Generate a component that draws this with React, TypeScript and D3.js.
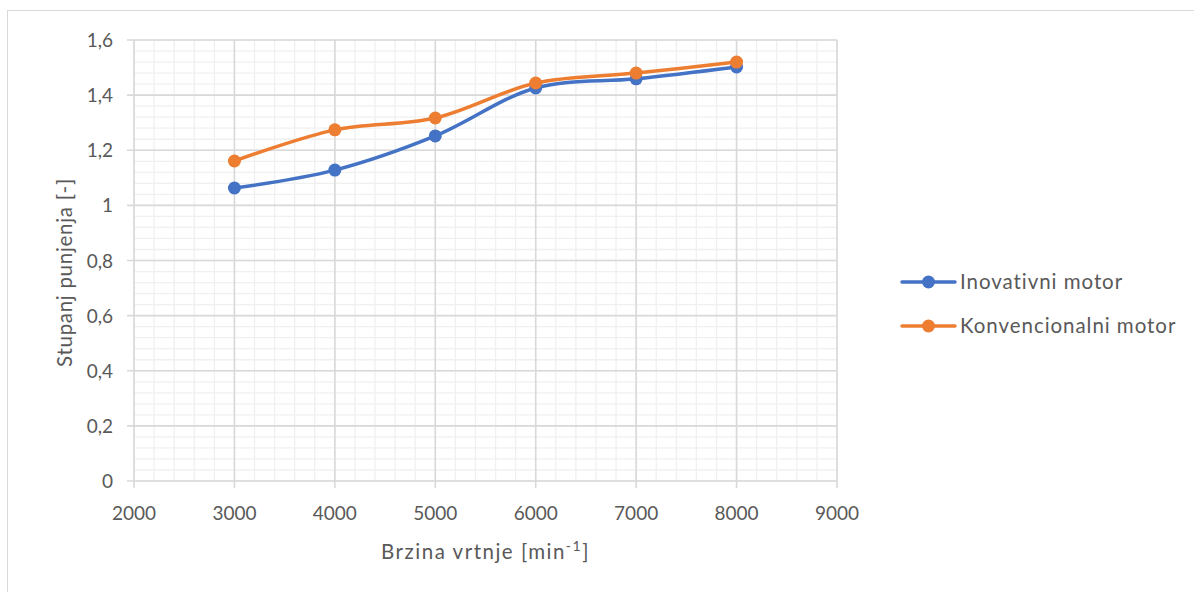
import React, { useEffect, useRef } from "react";
import * as d3 from "d3";

// brzina vrtnje [min^-1]
const rpm = [3000, 4000, 5000, 6000, 7000, 8000];
const inovativni = [1.063, 1.128, 1.252, 1.426, 1.459, 1.502];
const konvencionalni = [1.161, 1.274, 1.317, 1.444, 1.48, 1.52];
const seriesNames = ["Inovativni motor", "Konvencionalni motor"];
const seriesColors = ["#4472C4", "#ED7D31"];

const W = 1194;
const H = 592;
const FONT = "Lato, 'Open Sans', sans-serif";
const TXT = "#595959";

const App: React.FC = () => {
	const ref = useRef<SVGSVGElement | null>(null);

	useEffect(() => {
		if (!ref.current) return;
		const svg = d3.select(ref.current);
		svg.selectAll("*").remove();

		const left = 134;
		const right = 837;
		const top = 40;
		const bottom = 481;

		const x = d3.scaleLinear().domain([2000, 9000]).range([left, right]);
		const y = d3.scaleLinear().domain([0, 1.6]).range([bottom, top]);
		const loc = d3.formatLocale({ decimal: ",", thousands: "", grouping: [3], currency: ["", ""] });
		const fmtY = (v: number) => loc.format("~g")(+v.toFixed(2));

		// chart border
		svg.append("rect")
			.attr("x", 7.5).attr("y", 10.5)
			.attr("width", 1300).attr("height", 700)
			.attr("fill", "white").attr("stroke", "#d9d9d9");

		const g = svg.append("g");

		// minor grid
		const minorX = d3.range(2000, 9001, 200);
		const minorY = d3.range(0, 1.6001, 0.04);
		g.selectAll(".mx").data(minorX).enter().append("line")
			.attr("x1", (d) => x(d)).attr("x2", (d) => x(d))
			.attr("y1", top).attr("y2", bottom)
			.attr("stroke", "#f0f0f0").attr("stroke-width", 1.3);
		g.selectAll(".my").data(minorY).enter().append("line")
			.attr("x1", left).attr("x2", right)
			.attr("y1", (d) => y(d)).attr("y2", (d) => y(d))
			.attr("stroke", "#f0f0f0").attr("stroke-width", 1.3);

		// major grid
		const majorX = d3.range(2000, 9001, 1000);
		const majorY = d3.range(0, 1.6001, 0.2);
		g.selectAll(".Mx").data(majorX).enter().append("line")
			.attr("x1", (d) => x(d)).attr("x2", (d) => x(d))
			.attr("y1", top).attr("y2", bottom + 7)
			.attr("stroke", "#d9d9d9").attr("stroke-width", 1.6);
		g.selectAll(".My").data(majorY).enter().append("line")
			.attr("x1", left - 7).attr("x2", right)
			.attr("y1", (d) => y(d)).attr("y2", (d) => y(d))
			.attr("stroke", "#d9d9d9").attr("stroke-width", 1.6);

		// tick labels
		g.selectAll(".xl").data(majorX).enter().append("text")
			.attr("x", (d) => x(d)).attr("y", bottom + 39)
			.attr("text-anchor", "middle")
			.attr("font-family", FONT).attr("font-size", 19).attr("fill", TXT)
			.text((d) => String(d));
		g.selectAll(".yl").data(majorY).enter().append("text")
			.attr("x", left - 21).attr("y", (d) => y(d) + 7)
			.attr("text-anchor", "end")
			.attr("font-family", FONT).attr("font-size", 19).attr("fill", TXT)
			.text((d) => fmtY(d));

		// axis titles
		const xt = g.append("text")
			.attr("x", (left + right) / 2).attr("y", 559)
			.attr("text-anchor", "middle")
			.attr("font-family", FONT).attr("font-size", 20.5)
			.attr("letter-spacing", 1.5).attr("fill", TXT);
		xt.append("tspan").text("Brzina vrtnje [min");
		xt.append("tspan").attr("baseline-shift", "super").attr("font-size", 14).text("-1");
		xt.append("tspan").text("]");

		g.append("text")
			.attr("transform", `translate(72,${(top + bottom) / 2 + 12}) rotate(-90)`)
			.attr("text-anchor", "middle")
			.attr("font-family", FONT).attr("font-size", 20.5)
			.attr("letter-spacing", 0.7).attr("fill", TXT)
			.text("Stupanj punjenja [-]");

		// series
		const all = [inovativni, konvencionalni];
		const line = d3.line<number>()
			.x((_, i) => x(rpm[i]))
			.y((d) => y(d))
			.curve(d3.curveCatmullRom.alpha(0.5));

		all.forEach((vals, si) => {
			const sg = g.append("g");
			sg.append("path")
				.attr("d", line(vals))
				.attr("fill", "none")
				.attr("stroke", seriesColors[si])
				.attr("stroke-width", 3.5)
				.attr("stroke-linecap", "round");
			sg.selectAll("circle").data(vals).enter().append("circle")
				.attr("cx", (_, i) => x(rpm[i]))
				.attr("cy", (d) => y(d))
				.attr("r", 6.5)
				.attr("fill", seriesColors[si]);
		});

		// legend
		const lg = g.append("g");
		seriesNames.forEach((name, i) => {
			const ly = 282 + i * 44;
			lg.append("line")
				.attr("x1", 902).attr("x2", 955)
				.attr("y1", ly).attr("y2", ly)
				.attr("stroke", seriesColors[i]).attr("stroke-width", 3.5)
				.attr("stroke-linecap", "round");
			lg.append("circle")
				.attr("cx", 928.5).attr("cy", ly).attr("r", 6.5)
				.attr("fill", seriesColors[i]);
			lg.append("text")
				.attr("x", 960).attr("y", ly + 7)
				.attr("font-family", FONT).attr("font-size", 20.5)
				.attr("letter-spacing", 0.95).attr("fill", TXT)
				.text(name);
		});
	}, []);

	return (
		<svg
			ref={ref}
			width={W}
			height={H}
			style={{ position: "absolute", left: 0, top: 0, background: "white" }}
		/>
	);
};

export default App;
